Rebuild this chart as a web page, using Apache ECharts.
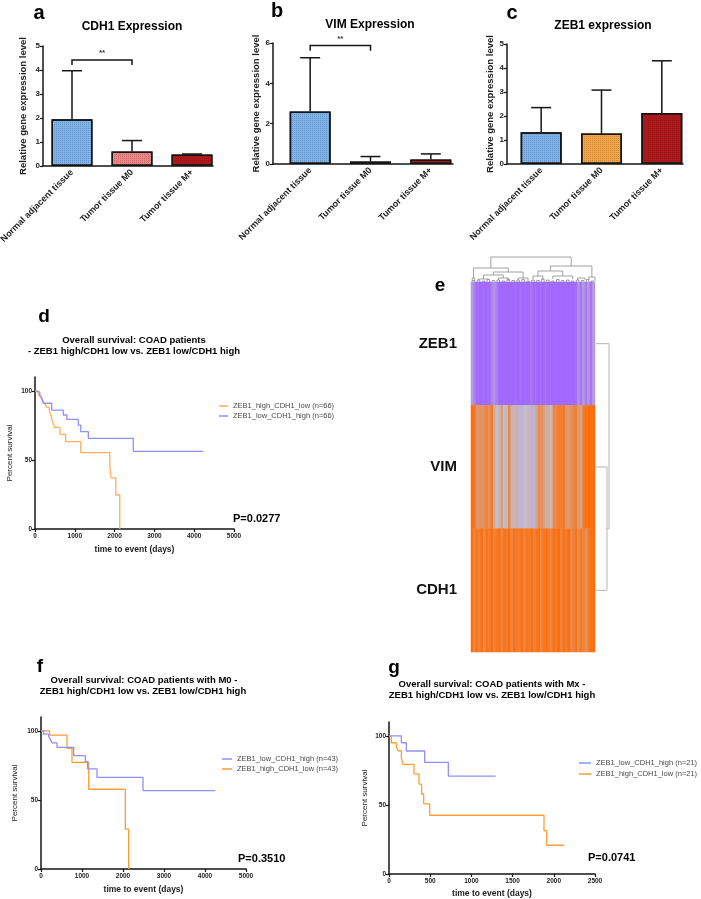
<!DOCTYPE html>
<html>
<head>
<meta charset="utf-8">
<script src="https://cdn.jsdelivr.net/npm/echarts@6/dist/echarts.min.js"></script>
<style>
  html, body { margin: 0; padding: 0; background: #fff; }
  #chart { width: 701px; height: 899px; }
</style>
</head>
<body>
<div id="chart"></div>
<script>
// ---- data ----
var tissues = ['Normal adjacent tissue', 'Tumor tissue M0', 'Tumor tissue M+'];

var cdh1Mean = [1.95, 0.6, 0.48];
var cdh1Err = [3.97, 1.06, 0.5];
var vimMean = [2.6, 0.12, 0.22];
var vimErr = [5.27, 0.37, 0.5];
var zeb1Mean = [1.32, 1.27, 2.13];
var zeb1Err = [2.35, 3.08, 4.3];

// significance brackets: [from, to, foot, top]
var cdh1Sig = [0, 1, 4.21, 4.42];
var vimSig = [0, 1, 5.62, 5.87];

// Kaplan-Meier curves, all cohorts
var dHighName = 'ZEB1_high_CDH1_low (n=66)';
var dHighT = [0, 40, 80, 120, 170, 210, 260, 300, 360, 390, 420, 450, 490, 630, 770, 1150, 1880, 1910, 2030, 2130];
var dHighS = [100, 99, 97.5, 96, 94, 92, 90, 88, 86, 83, 80, 77, 73.5, 68.5, 63.3, 55.3, 45.6, 37, 24.6, 0];
var dLowName = 'ZEB1_low_CDH1_high (n=66)';
var dLowT = [0, 60, 120, 170, 210, 420, 710, 800, 1090, 1150, 1340, 2470, 4230];
var dLowS = [100, 99, 97, 95, 91, 86, 82.5, 79.3, 75.2, 70.4, 65.6, 56.2, 56.2];

// M0 cohort
var fLowName = 'ZEB1_low_CDH1_high (n=43)';
var fLowT = [0, 65, 187, 228, 268, 390, 797, 1081, 1138, 1366, 2488, 4252];
var fLowS = [100, 97.6, 96, 93.8, 91.3, 88, 82, 77.6, 72.4, 66.3, 56.7, 56.7];
var fHighName = 'ZEB1_high_CDH1_low (n=43)';
var fHighT = [0, 211, 634, 756, 1163, 2057, 2138];
var fHighS = [100, 96.9, 87.3, 77.2, 57.7, 28.8, 0];

// Mx cohort
var gLowName = 'ZEB1_low_CDH1_high (n=21)';
var gLowT = [0, 150, 210, 433, 720, 1294];
var gLowS = [100, 95, 89, 80.8, 70.9, 70.9];
var gHighName = 'ZEB1_high_CDH1_low (n=21)';
var gHighT = [0, 28, 89, 109, 150, 170, 303, 364, 396, 421, 494, 1881, 1914, 2127];
var gHighS = [100, 95, 92, 89.2, 84.4, 79.3, 72.4, 65.1, 57.9, 50.7, 42.5, 31.4, 20.8, 20.8];

// heatmap, one value per sample column
var genes = ['ZEB1', 'VIM', 'CDH1'];
var zeb1Heat = [0.3,0.15,0.03,0.02,0.02,0.02,0.03,0.02,0.18,0.25,0.15,0.02,0.02,0.03,0.02,0.02,0.02,0.02,0.03,0.02,
  0.02,0.02,0.02,0.02,0.08,0.02,0.02,0.02,0.02,0.02,0.06,0.02,0.02,0.02,0.02,0.02,0.02,0.02,0.02,0.02,
  0.02,0.02,0.05,0.25,0.1,0.3,0.12,0.28,0.08,0.3];
var vimHeat = [0.97,0.95,0.72,0.78,0.75,0.8,0.85,0.78,0.92,0.62,0.5,0.55,0.7,0.5,0.52,0.82,0.58,0.55,0.6,0.45,
  0.43,0.48,0.5,0.55,0.42,0.45,0.65,0.8,0.78,0.68,0.62,0.58,0.55,0.85,0.82,0.9,0.88,0.92,0.75,0.72,
  0.78,0.85,0.88,0.7,0.68,0.9,0.95,1.0,0.98,1.0];
var cdh1Heat = [0.98,0.85,0.95,0.88,0.97,0.82,0.95,0.9,0.98,0.86,0.92,0.97,0.84,0.95,0.9,0.98,0.83,0.96,0.92,0.88,
  0.97,0.85,0.95,0.9,0.98,0.87,0.94,0.97,0.84,0.93,0.98,0.9,0.86,0.96,0.92,0.98,0.85,0.95,0.9,0.97,
  0.83,0.88,0.95,0.8,0.92,0.86,0.78,0.9,0.97,1.0];

// column dendrogram: [xLeft, hLeft, xRight, hRight, hJoin]
var topTree = [
  [8, 14, 40.4, 16, 25],
  [1, 4, 15, 10, 14],
  [0.5, 1, 1.5, 1.5, 4],
  [9, 7, 21, 4, 10],
  [5, 3, 13, 4, 7],
  [3, 2, 7, 2, 3],
  [11, 2, 15, 1, 4],
  [19, 2, 23, 2, 4],
  [32, 11, 48.75, 5, 16],
  [27, 6, 37, 6, 11],
  [25, 3, 29, 2, 6],
  [33, 3, 41, 3, 6],
  [47.5, 2, 50, 1, 5],
  [43, 2, 46, 2, 4]
];
var fringeH = [1.5,2,1,2.5,1.5,2,1,3,1.5,2,2.5,1,2,1.5,3,2,1,2.5,1.5,2,1,2,1.5,2.5,1];
// row dendrogram: [hLeft, yLeft, hRight, yRight, hJoin]
var sideTree = [
  [1, 1.5, 1, 2.5, 12],
  [1, 0.5, 12, 2.0, 14]
];

(function () {

  var FONT = 'Liberation Sans, Arial, sans-serif';
  var INK = '#151515';
  var BLUE = '#7db4ef', PINK = '#f08484', DARKRED = '#b3181a', ORANGE = '#f6a444';
  var KM_BLUE = '#8f8fff', KM_ORANGE = '#ff9c33', KM_ORANGE_LIGHT = '#ffae5c';

  var grids = [], xAxes = [], yAxes = [], series = [], legends = [], graphics = [];

  var axisLine = { show: true, onZero: false, lineStyle: { color: INK, width: 1.5 } };
  var barDecal = { symbol: 'rect', symbolSize: 1, dashArrayX: [1, 1], dashArrayY: [1, 1], color: 'rgba(0,0,0,0.16)' };

  function _plain(v){ return String(v); }

  function _grid(box){
    box.outerBoundsMode = 'none';
    box.containLabel = false;
    grids.push(box);
    return grids.length - 1;
  }

  function _text(str, x, y, size, align){
    graphics.push({
      type: 'text', x: x, y: y, silent: true,
      style: { text: str, fill: '#000', font: 'bold ' + size + 'px ' + FONT,
               textAlign: align || 'center', textVerticalAlign: 'middle' }
    });
  }

  function _errorBar(params, api){
    var x = api.value(0);
    var base = api.coord([x, api.value(1)]);
    var top = api.coord([x, api.value(2)]);
    var st = { stroke: INK, lineWidth: 1.5 };
    return { type: 'group', children: [
      { type: 'line', shape: { x1: base[0], y1: base[1], x2: top[0], y2: top[1] }, style: st },
      { type: 'line', shape: { x1: top[0] - 10, y1: top[1], x2: top[0] + 10, y2: top[1] }, style: st }
    ]};
  }

  function _bracket(params, api){
    var a = api.coord([api.value(0), api.value(2)]);
    var b = api.coord([api.value(1), api.value(3)]);
    var c = api.coord([api.value(1), api.value(2)]);
    return { type: 'group', children: [
      { type: 'polyline', shape: { points: [[a[0], a[1]], [a[0], b[1]], [b[0], b[1]], [c[0], c[1]]] },
        style: { stroke: INK, lineWidth: 1.5, fill: null } },
      { type: 'text', x: (a[0] + b[0]) / 2, y: b[1] - 7,
        style: { text: '**', fill: '#333', font: 'bold 8px ' + FONT, textAlign: 'center', textVerticalAlign: 'middle' } }
    ]};
  }

  function barPanel(frame, plot, max, step, means, errs, colors, nameGap, sig){
    var gf = _grid(frame), gp = _grid(plot);
    xAxes.push({ gridIndex: gf, type: 'value', min: 0, max: 1, axisLine: axisLine,
      axisTick: { show: false }, axisLabel: { show: false }, splitLine: { show: false } });
    yAxes.push({ gridIndex: gf, type: 'value', min: 0, max: max, interval: step, axisLine: axisLine,
      axisTick: { show: true, length: 3, lineStyle: { color: INK, width: 1.2 } },
      axisLabel: { fontSize: 8, fontWeight: 'bold', color: '#222', margin: 3, fontFamily: FONT },
      splitLine: { show: false },
      name: 'Relative gene expression level', nameLocation: 'middle', nameGap: nameGap,
      nameTextStyle: { fontSize: 9.5, fontWeight: 'bold', color: '#222', fontFamily: FONT } });

    var xi = xAxes.length, yi = yAxes.length;
    xAxes.push({ gridIndex: gp, type: 'category', data: tissues,
      axisLine: { show: false }, axisTick: { show: false },
      axisLabel: { rotate: 45, interval: 0, fontSize: 9, fontWeight: 'bold', color: '#222', margin: 5, fontFamily: FONT } });
    yAxes.push({ gridIndex: gp, type: 'value', min: 0, max: max, show: false });

    series.push({ type: 'bar', xAxisIndex: xi, yAxisIndex: yi, barWidth: 41,
      data: means.map(function(v, i){ return { value: v, itemStyle: { color: colors[i] } }; }),
      itemStyle: { borderColor: INK, borderWidth: 1.5, decal: barDecal } });
    series.push({ type: 'custom', xAxisIndex: xi, yAxisIndex: yi, z: 5,
      data: means.map(function(v, i){ return [i, v, errs[i]]; }), renderItem: _errorBar });
    if(sig){
      series.push({ type: 'custom', xAxisIndex: xi, yAxisIndex: yi, z: 5, data: [sig], renderItem: _bracket });
    }
  }

  function kmPanel(box, xMax, xStep, curves, legendBox, gaps){
    var g = _grid(box);
    var xi = xAxes.length, yi = yAxes.length;
    xAxes.push({ gridIndex: g, type: 'value', min: 0, max: xMax, interval: xStep, axisLine: axisLine,
      axisTick: { length: 3, lineStyle: { color: INK, width: 1.2 } },
      axisLabel: { fontSize: 6.5, fontWeight: 'bold', color: '#222', margin: 4, fontFamily: FONT, formatter: _plain },
      splitLine: { show: false },
      name: 'time to event (days)', nameLocation: 'middle', nameGap: gaps[0],
      nameTextStyle: { fontSize: 8.5, fontWeight: 'bold', color: '#222', fontFamily: FONT } });
    yAxes.push({ gridIndex: g, type: 'value', min: 0, max: 110, axisLine: axisLine,
      axisTick: { length: 3, customValues: [0, 50, 100], lineStyle: { color: INK, width: 1.2 } },
      axisLabel: { customValues: [0, 50, 100], fontSize: 6.5, fontWeight: 'bold', color: '#222', margin: 3, fontFamily: FONT, formatter: _plain },
      splitLine: { show: false },
      name: 'Percent survival', nameLocation: 'middle', nameGap: gaps[1],
      nameTextStyle: { fontSize: 8, color: '#222', fontFamily: FONT } });

    curves.forEach(function(c){
      series.push({ type: 'line', name: c.name, xAxisIndex: xi, yAxisIndex: yi, step: 'end',
        symbol: 'none', z: c.z || 2,
        data: c.t.map(function(t, i){ return [t, c.s[i]]; }),
        lineStyle: { color: c.color, width: 1.3 }, itemStyle: { color: c.color } });
    });

    legends.push({ orient: 'vertical', left: legendBox[0], top: legendBox[1], itemGap: legendBox[2],
      icon: 'rect', itemWidth: legendBox[3], itemHeight: 1.5,
      data: curves.map(function(c){ return c.name; }),
      textStyle: { fontSize: 7.5, color: '#4a4a4a', fontFamily: FONT } });
  }

  function heatPanel(){
    var gh = _grid({ left: 471, top: 282, width: 124, height: 370 });
    var cols = zeb1Heat.map(function(v, i){ return String(i); });
    var rows = [zeb1Heat, vimHeat, cdh1Heat];
    var data = [];
    rows.forEach(function(arr, r){
      arr.forEach(function(v, c){ data.push([c, r, v]); });
    });
    var xi = xAxes.length, yi = yAxes.length;
    xAxes.push({ gridIndex: gh, type: 'category', data: cols, show: false });
    yAxes.push({ gridIndex: gh, type: 'category', data: genes, inverse: true,
      axisLine: { show: false }, axisTick: { show: false },
      axisLabel: { fontSize: 15, fontWeight: 'bold', color: '#111', margin: 14, fontFamily: FONT } });
    series.push({ type: 'heatmap', xAxisIndex: xi, yAxisIndex: yi, data: data,
      itemStyle: { borderWidth: 0 } });
    var heatIndex = series.length - 1;

    // top dendrogram
    var gt = _grid({ left: 471, top: 248, width: 124, height: 34 });
    xi = xAxes.length; yi = yAxes.length;
    xAxes.push({ gridIndex: gt, type: 'value', min: 0, max: cols.length, show: false });
    yAxes.push({ gridIndex: gt, type: 'value', min: 0, max: 34, show: false });
    var links = topTree.map(function(n){
      return { coords: [[n[0], n[1]], [n[0], n[4]], [n[2], n[4]], [n[2], n[3]]] };
    });
    fringeH.forEach(function(h, j){
      var a = 2 * j + 0.5, b = 2 * j + 1.5;
      links.push({ coords: [[a, 0], [a, h], [b, h], [b, 0]] });
    });
    series.push({ type: 'lines', coordinateSystem: 'cartesian2d', xAxisIndex: xi, yAxisIndex: yi,
      polyline: true, silent: true, data: links,
      lineStyle: { color: '#8a8a8a', width: 0.8, opacity: 1 } });

    // side dendrogram
    var gs = _grid({ left: 595, top: 282, width: 16, height: 370 });
    xi = xAxes.length; yi = yAxes.length;
    xAxes.push({ gridIndex: gs, type: 'value', min: 0, max: 16, show: false });
    yAxes.push({ gridIndex: gs, type: 'value', min: 0, max: 3, inverse: true, show: false });
    series.push({ type: 'lines', coordinateSystem: 'cartesian2d', xAxisIndex: xi, yAxisIndex: yi,
      polyline: true, silent: true,
      data: sideTree.map(function(n){
        return { coords: [[n[0], n[1]], [n[4], n[1]], [n[4], n[3]], [n[2], n[3]]] };
      }),
      lineStyle: { color: '#b5b5b5', width: 1, opacity: 1 } });

    return heatIndex;
  }

  function _init(){
    barPanel({ left: 43, top: 46, width: 170, height: 120 }, { left: 42, top: 46, width: 180, height: 120 },
      5, 1, cdh1Mean, cdh1Err, [BLUE, PINK, DARKRED], 15, cdh1Sig);
    barPanel({ left: 273, top: 43, width: 180, height: 121 }, { left: 280, top: 43, width: 181, height: 121 },
      6, 2, vimMean, vimErr, [BLUE, PINK, DARKRED], 7, vimSig);
    barPanel({ left: 507, top: 44, width: 176, height: 120 }, { left: 511, top: 44, width: 181, height: 120 },
      5, 1, zeb1Mean, zeb1Err, [BLUE, ORANGE, DARKRED], 11, null);

    kmPanel({ left: 35, top: 377, width: 199, height: 152 }, 5000, 1000, [
      { name: dHighName, t: dHighT, s: dHighS, color: KM_ORANGE_LIGHT },
      { name: dLowName, t: dLowT, s: dLowS, color: KM_BLUE, z: 3 }
    ], [214, 397, 2, 9], [16, 21]);
    kmPanel({ left: 41, top: 717, width: 205, height: 152 }, 5000, 1000, [
      { name: fLowName, t: fLowT, s: fLowS, color: KM_BLUE, z: 3 },
      { name: fHighName, t: fHighT, s: fHighS, color: KM_ORANGE }
    ], [217, 750, 2, 10], [16, 22]);
    kmPanel({ left: 389, top: 722, width: 206, height: 152 }, 2500, 500, [
      { name: gLowName, t: gLowT, s: gLowS, color: KM_BLUE, z: 3 },
      { name: gHighName, t: gHighT, s: gHighS, color: KM_ORANGE }
    ], [574, 754, 3, 12], [15, 20]);

    var heatIndex = heatPanel();

    _text('a', 39, 13, 20); _text('b', 277, 11, 20); _text('c', 512, 13, 20);
    _text('CDH1 Expression', 132, 27, 12);
    _text('VIM Expression', 370, 25, 12);
    _text('ZEB1 expression', 603, 26, 12);
    _text('d', 44, 317, 19); _text('e', 440, 286, 19); _text('f', 40, 667, 19); _text('g', 394, 668, 19);
    _text('Overall survival: COAD patients', 134, 340, 9.5);
    _text('- ZEB1 high/CDH1 low vs. ZEB1 low/CDH1 high', 134, 351, 9.5);
    _text('Overall survival: COAD patients with M0 -', 144, 680, 9.5);
    _text('ZEB1 high/CDH1 low vs. ZEB1 low/CDH1 high', 143, 691, 9.5);
    _text('Overall survival: COAD patients with Mx -', 492, 684, 9.5);
    _text('ZEB1 high/CDH1 low vs. ZEB1 low/CDH1 high', 492, 695, 9.5);
    _text('P=0.0277', 233, 519, 11, 'left');
    _text('P=0.3510', 238, 859, 11, 'left');
    _text('P=0.0741', 588, 858, 11, 'left');

    var chart = echarts.init(document.getElementById('chart'), null, { renderer: 'canvas' });
    chart.setOption({
      animation: false,
      backgroundColor: '#fff',
      textStyle: { fontFamily: FONT },
      grid: grids,
      xAxis: xAxes,
      yAxis: yAxes,
      legend: legends,
      visualMap: [{ type: 'continuous', show: false, min: 0, max: 1, seriesIndex: heatIndex,
        inRange: { color: ['#a066ff', '#c3bdc9', '#ff6c05'] } }],
      graphic: graphics,
      series: series
    });
  }

  _init();
})();
</script>
</body>
</html>
